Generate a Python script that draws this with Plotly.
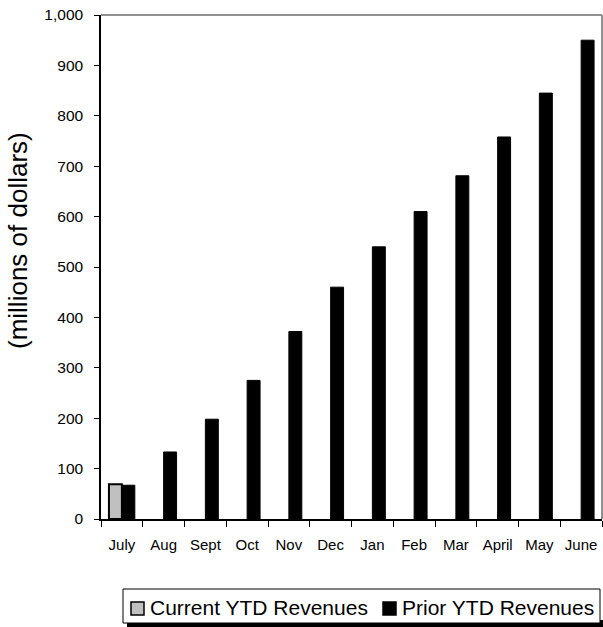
import plotly.graph_objects as go

months = ["July", "Aug", "Sept", "Oct", "Nov", "Dec", "Jan", "Feb", "Mar", "April", "May", "June"]
current_ytd = [69, None, None, None, None, None, None, None, None, None, None, None]
prior_ytd = [67, 133, 198, 275, 372, 460, 540, 610, 681, 758, 845, 950]
series_names = ["Current YTD Revenues", "Prior YTD Revenues"]

W, H = 603, 627
L, R, T, B = 101, 1, 15, 108
PW, PH = W - L - R, H - T - B


def px_x(p):
    return (p - L) / PW


def px_y(p):
    return (H - B - p) / PH


fig = go.Figure()
fig.add_trace(go.Bar(name=series_names[0], x=months, y=current_ytd,
                     marker=dict(color="#c0c0c0", line=dict(color="black", width=2))))
fig.add_trace(go.Bar(name=series_names[1], x=months, y=prior_ytd,
                     marker=dict(color="black", line=dict(color="black", width=1))))

fig.update_layout(
    width=W, height=H,
    margin=dict(l=L, r=R, t=T, b=B, autoexpand=False),
    plot_bgcolor="white", paper_bgcolor="white",
    barmode="group", bargap=0.38, bargroupgap=0,
    font=dict(family="Liberation Sans, Arial, sans-serif", color="black", size=15),
    showlegend=False,
    xaxis=dict(showline=True, linecolor="black", linewidth=1.5,
               ticks="outside", tickson="boundaries", ticklen=6, tickcolor="black",
               tickfont=dict(size=15), tickangle=0, showgrid=False, automargin=False,
               ticklabelstandoff=11, ticklabeloverflow="allow"),
    yaxis=dict(range=[0, 1000], dtick=100, tickformat=",", showline=True,
               linecolor="black", linewidth=1.5, ticks="outside", ticklen=5,
               tickcolor="black", showgrid=False, zeroline=False,
               tickfont=dict(size=15.5), ticklabelstandoff=8, automargin=False,
               ticklabeloverflow="allow"),
)

# y-axis title
fig.add_annotation(text="(millions of dollars)", xref="paper", yref="paper",
                   x=px_x(18), y=px_y(241), textangle=-90, showarrow=False,
                   font=dict(size=26), xanchor="center", yanchor="middle")

# gray top and right frame
fig.add_shape(type="line", xref="paper", yref="paper", x0=0, x1=1, y0=1, y1=1,
              line=dict(color="#909090", width=2))
fig.add_shape(type="line", xref="paper", yref="paper", x0=1, x1=1, y0=0, y1=1,
              line=dict(color="#909090", width=2))

# legend: shadow, box, swatches, labels
fig.add_shape(type="rect", xref="paper", yref="paper",
              x0=px_x(127), x1=px_x(603), y0=px_y(627), y1=px_y(620),
              line=dict(width=0), fillcolor="black", layer="above")
fig.add_shape(type="rect", xref="paper", yref="paper",
              x0=px_x(123), x1=px_x(600), y0=px_y(623), y1=px_y(589),
              line=dict(width=1, color="black"), fillcolor="white", layer="above")
fig.add_shape(type="rect", xref="paper", yref="paper",
              x0=px_x(131), x1=px_x(144), y0=px_y(615), y1=px_y(602),
              line=dict(width=1.5, color="black"), fillcolor="#c0c0c0", layer="above")
fig.add_shape(type="rect", xref="paper", yref="paper",
              x0=px_x(383), x1=px_x(396), y0=px_y(615), y1=px_y(602),
              line=dict(width=1.5, color="black"), fillcolor="black", layer="above")
fig.add_annotation(text=series_names[0], xref="paper", yref="paper",
                   x=px_x(148), y=px_y(607), showarrow=False, xanchor="left",
                   yanchor="middle", font=dict(size=21))
fig.add_annotation(text=series_names[1], xref="paper", yref="paper",
                   x=px_x(400), y=px_y(607), showarrow=False, xanchor="left",
                   yanchor="middle", font=dict(size=21))

fig.write_html("out.html",
               config={"displayModeBar": False},
               post_script="document.body.style.margin='0';"
                           "document.documentElement.style.overflow='hidden';")
